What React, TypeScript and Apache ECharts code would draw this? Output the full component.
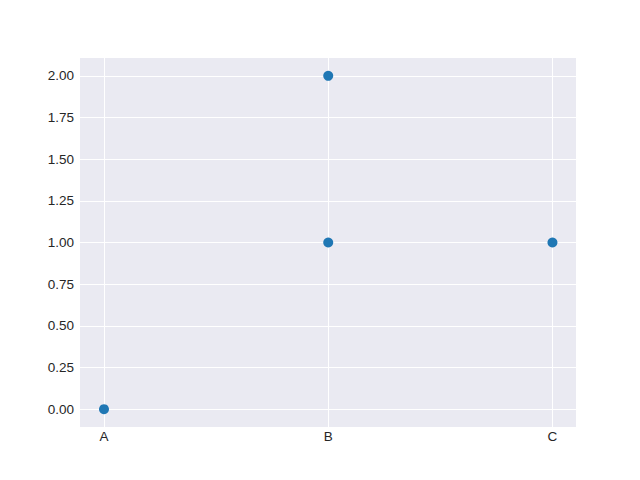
import React, { useEffect, useRef } from "react";
import * as echarts from "echarts";

const categories = ["A", "B", "C"];
const points: [string, number][] = [
  ["A", 0],
  ["B", 1],
  ["B", 2],
  ["C", 1],
];
const yTicks = [0, 0.25, 0.5, 0.75, 1.0, 1.25, 1.5, 1.75, 2.0];

export default function App() {
  const ref = useRef<HTMLDivElement>(null);
  useEffect(() => {
    if (!ref.current) return;
    const chart = echarts.init(ref.current, undefined, { renderer: "svg" });
    const font = "'Liberation Sans', Arial, sans-serif";
    const xIdx = categories.map((_, i) => i);
    chart.setOption({
      animation: false,
      backgroundColor: "#ffffff",
      grid: {
        left: 80,
        top: 58,
        width: 496,
        height: 369,
        backgroundColor: "#EAEAF2",
        show: true,
        borderWidth: 0,
      },
      xAxis: {
        type: "value",
        min: -0.107,
        max: 2.105,
        axisLine: { show: false },
        axisTick: { show: false, customValues: xIdx },
        axisLabel: {
          customValues: xIdx,
          formatter: (v: number) => categories[Math.round(v)] ?? "",
          color: "#262626",
          fontFamily: font,
          fontSize: 13.5,
          margin: 2,
        },
        splitLine: { show: true, lineStyle: { color: "#ffffff", width: 1 } },
      },
      yAxis: {
        type: "value",
        min: -0.107,
        max: 2.107,
        axisLine: { show: false },
        axisTick: { show: false, customValues: yTicks },
        axisLabel: {
          customValues: yTicks,
          formatter: (v: number) => v.toFixed(2),
          color: "#262626",
          fontFamily: font,
          fontSize: 13.5,
          margin: 6,
        },
        splitLine: { show: true, lineStyle: { color: "#ffffff", width: 1 } },
      },
      series: [
        {
          type: "scatter",
          symbol: "circle",
          symbolSize: 10,
          itemStyle: { color: "#1f77b4", opacity: 1 },
          data: points.map(([c, v]) => [categories.indexOf(c), v]),
        },
      ],
    });
    return () => chart.dispose();
  }, []);
  return <div ref={ref} style={{ width: 640, height: 480, margin: -8 }} />;
}
